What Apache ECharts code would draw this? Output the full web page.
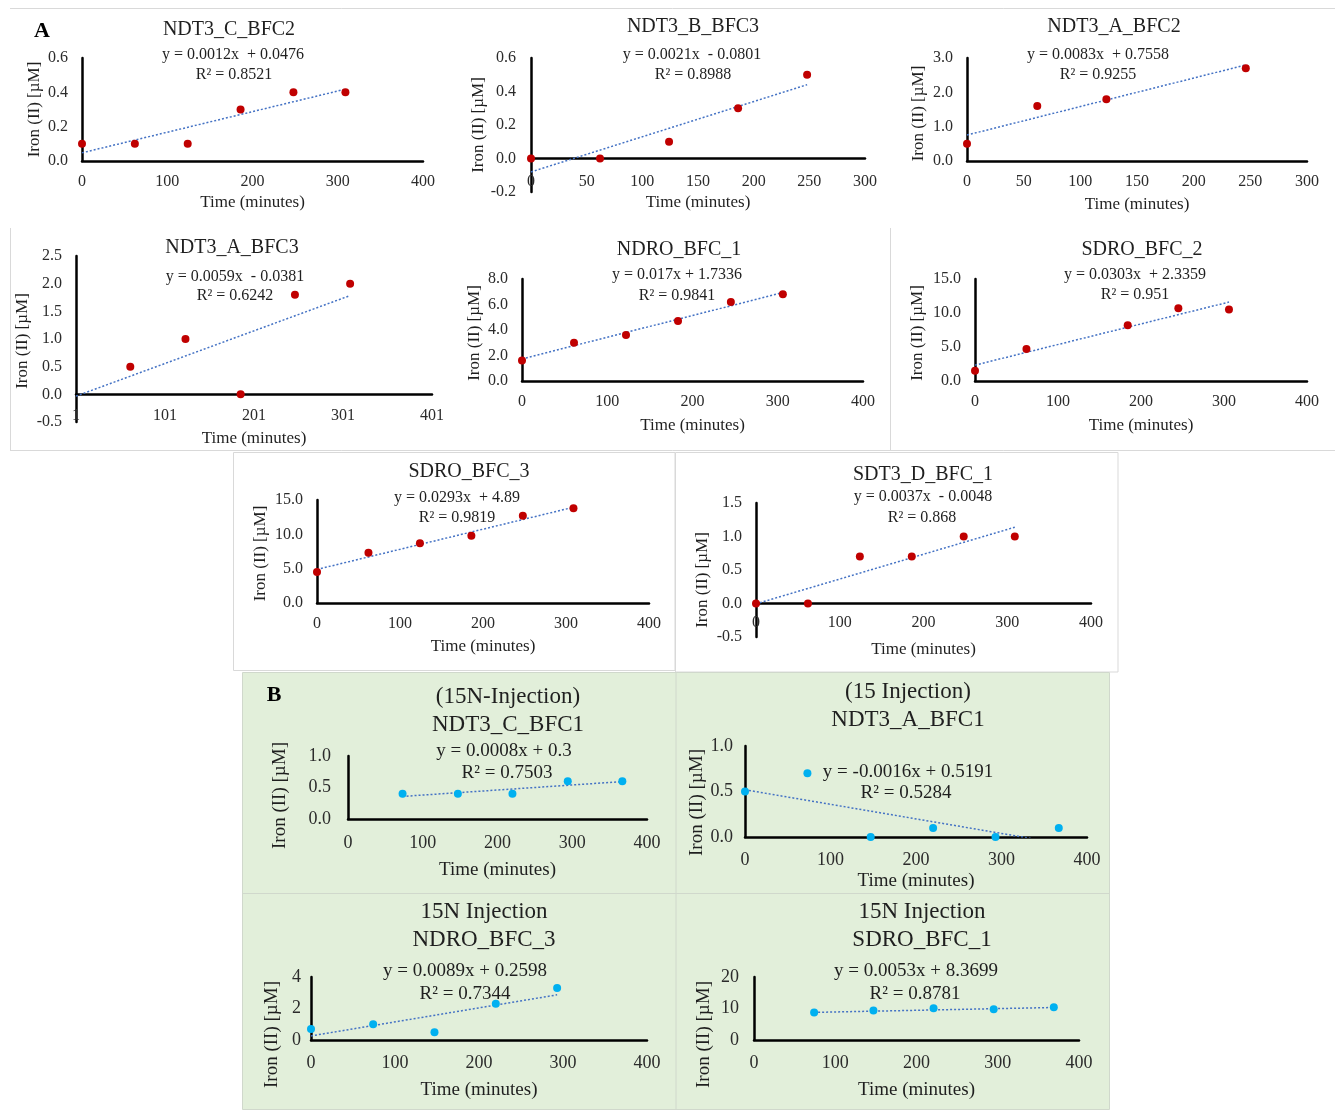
<!DOCTYPE html>
<html><head><meta charset="utf-8">
<script src="https://cdn.jsdelivr.net/npm/echarts@6/dist/echarts.min.js"></script>
<style>html,body{margin:0;padding:0;background:#fff}#c{width:1342px;height:1110px}</style>
</head><body><div id="c"></div>
<script>
// ---------------- DATA ----------------
const titleLines = [
  ['NDT3_C_BFC2'], ['NDT3_B_BFC3'], ['NDT3_A_BFC2'],
  ['NDT3_A_BFC3'], ['NDRO_BFC_1'], ['SDRO_BFC_2'],
  ['SDRO_BFC_3'], ['SDT3_D_BFC_1'],
  ['(15N-Injection)', 'NDT3_C_BFC1'], ['(15 Injection)', 'NDT3_A_BFC1'],
  ['15N Injection', 'NDRO_BFC_3'], ['15N Injection', 'SDRO_BFC_1']
];
const equations = [
  'y = 0.0012x  + 0.0476', 'y = 0.0021x  - 0.0801', 'y = 0.0083x  + 0.7558',
  'y = 0.0059x  - 0.0381', 'y = 0.017x + 1.7336', 'y = 0.0303x  + 2.3359',
  'y = 0.0293x  + 4.89', 'y = 0.0037x  - 0.0048',
  'y = 0.0008x + 0.3', 'y = -0.0016x + 0.5191', 'y = 0.0089x + 0.2598', 'y = 0.0053x + 8.3699'
];
const rSquared = [
  'R² = 0.8521', 'R² = 0.8988', 'R² = 0.9255', 'R² = 0.6242', 'R² = 0.9841', 'R² = 0.951',
  'R² = 0.9819', 'R² = 0.868', 'R² = 0.7503', 'R² = 0.5284', 'R² = 0.7344', 'R² = 0.8781'
];
const slopes = [0.0012, 0.0021, 0.0083, 0.0059, 0.017, 0.0303, 0.0293, 0.0037, 0.0008, -0.0016, 0.0089, 0.0053];
const intercepts = [0.0476, -0.0801, 0.7558, -0.0381, 1.7336, 2.3359, 4.89, -0.0048, 0.3, 0.5191, 0.2598, 8.3699];
const trendStart = [0, 0, 0, 1, 0, 0, 0, 0, 73, 0, 0, 74];
const trendEnd = [309, 248, 246, 309, 306, 306, 309, 309, 367, 367, 293, 369];

const timeNDT3_C_BFC2 = [0, 62, 124, 186, 248, 309];
const ironNDT3_C_BFC2 = [0.1, 0.1, 0.1, 0.3, 0.4, 0.4];
const timeNDT3_B_BFC3 = [0, 62, 124, 186, 248];
const ironNDT3_B_BFC3 = [0, 0, 0.1, 0.3, 0.5];
const timeNDT3_A_BFC2 = [0, 62, 123, 246];
const ironNDT3_A_BFC2 = [0.5, 1.6, 1.8, 2.7];
const timeNDT3_A_BFC3 = [62, 124, 186, 247, 309];
const ironNDT3_A_BFC3 = [0.5, 1.0, 0.0, 1.8, 2.0];
const timeNDRO_BFC_1 = [0, 61, 122, 183, 245, 306];
const ironNDRO_BFC_1 = [1.6, 3.0, 3.6, 4.7, 6.2, 6.8];
const timeSDRO_BFC_2 = [0, 62, 184, 245, 306];
const ironSDRO_BFC_2 = [1.5, 4.7, 8.2, 10.7, 10.5];
const timeSDRO_BFC_3 = [0, 62, 124, 186, 248, 309];
const ironSDRO_BFC_3 = [4.5, 7.3, 8.7, 9.8, 12.7, 13.8];
const timeSDT3_D_BFC_1 = [0, 62, 124, 186, 248, 309];
const ironSDT3_D_BFC_1 = [0, 0, 0.7, 0.7, 1.0, 1.0];
const timeNDT3_C_BFC1 = [73, 147, 220, 294, 367];
const ironNDT3_C_BFC1 = [0.4, 0.4, 0.4, 0.6, 0.6];
const timeNDT3_A_BFC1 = [0, 73, 147, 220, 293, 367];
const ironNDT3_A_BFC1 = [0.5, 0.7, 0, 0.1, 0, 0.1];
const timeNDRO_BFC_3 = [0, 74, 147, 220, 293];
const ironNDRO_BFC_3 = [0.7, 1.0, 0.5, 2.3, 3.3];
const timeSDRO_BFC_1 = [74, 147, 221, 295, 369];
const ironSDRO_BFC_1 = [8.7, 9.4, 10.1, 9.8, 10.4];

// axis tick settings
const xMin = [0, 0, 0, 1, 0, 0, 0, 0, 0, 0, 0, 0];
const xMax = [400, 300, 300, 401, 400, 400, 400, 400, 400, 400, 400, 400];
const xStep = [100, 50, 50, 100, 100, 100, 100, 100, 100, 100, 100, 100];
const yMin = [0, -0.2, 0, -0.5, 0, 0, 0, -0.5, 0, 0, 0, 0];
const yMax = [0.6, 0.6, 3, 2.5, 8, 15, 15, 1.5, 1, 1, 4, 20];
const yStep = [0.2, 0.2, 1, 0.5, 2, 5, 5, 0.5, 0.5, 0.5, 2, 10];
const yDecimals = [1, 1, 1, 1, 1, 1, 1, 1, 1, 1, 0, 0];
const xAxisName = 'Time (minutes)';
const yAxisName = 'Iron (II) [µM]';

const timeSeries = [timeNDT3_C_BFC2, timeNDT3_B_BFC3, timeNDT3_A_BFC2, timeNDT3_A_BFC3, timeNDRO_BFC_1, timeSDRO_BFC_2,
  timeSDRO_BFC_3, timeSDT3_D_BFC_1, timeNDT3_C_BFC1, timeNDT3_A_BFC1, timeNDRO_BFC_3, timeSDRO_BFC_1];
const ironSeries = [ironNDT3_C_BFC2, ironNDT3_B_BFC3, ironNDT3_A_BFC2, ironNDT3_A_BFC3, ironNDRO_BFC_1, ironSDRO_BFC_2,
  ironSDRO_BFC_3, ironSDT3_D_BFC_1, ironNDT3_C_BFC1, ironNDT3_A_BFC1, ironNDRO_BFC_3, ironSDRO_BFC_1];

// ---------------- LAYOUT ----------------
// g: [left, top, width, height]; nx/ny: name gaps; xm: x label margin; sh: y-name shift down; t/e/r: text centers; ym: y label margin
const layout = [
  {g:[82,58,341,103],  nx:33.5, xm:13,  ny:38.5, sh:0,  t:[229,30],  e:[233,55],  r:[234,75],  ym:14, big:false},
  {g:[531,58,334,134], nx:2.5,  xm:-18, ny:43.5, sh:0,  t:[693,27],  e:[692,55],  r:[693,75],  ym:15, big:false},
  {g:[967,58,340,103], nx:35.5, xm:13,  ny:39.5, sh:4,  t:[1114,27], e:[1098,55], r:[1098,75], ym:14, big:false},
  {g:[76,256,356,166], nx:8,    xm:-14, ny:44.5, sh:2,  t:[232,248], e:[235,277], r:[235,296], ym:14, big:false},
  {g:[522,279,341,102],nx:36,   xm:13,  ny:38.5, sh:3,  t:[679,250], e:[677,275], r:[677,296], ym:14, big:false},
  {g:[975,279,332,102],nx:36,   xm:13,  ny:48.5, sh:3,  t:[1142,250],e:[1135,275],r:[1135,295],ym:14, big:false},
  {g:[317,500,332,103],nx:35.5, xm:13,  ny:47.5, sh:2,  t:[469,472], e:[457,498], r:[457,518], ym:14, big:false},
  {g:[756,503,335,134],nx:4.5,  xm:-22, ny:44.5, sh:10, t:[923,475], e:[923,497], r:[922,518], ym:14, big:false},
  {g:[348,756,299,63], nx:41.5, xm:15,  ny:58.5, sh:8,  t:[508,697], e:[504,751], r:[507,773], ym:17, big:true},
  {g:[745,746,342,91], nx:34.5, xm:14,  ny:26.5, sh:11, t:[908,692], e:[908,772], r:[906,793], ym:12, big:true},
  {g:[311,977,336,63], nx:40.5, xm:14,  ny:29.5, sh:26, t:[484,912], e:[465,971], r:[465,994], ym:10, big:true},
  {g:[754,977,325,63], nx:40.5, xm:14,  ny:40.5, sh:26, t:[922,912], e:[916,971], r:[915,994], ym:15, big:true}
];

const FONT = '"Liberation Serif","Times New Roman",serif';
const TXT = '#1f1f1f';
const LBL = '#2b2b2b';

const grids = [], xAxes = [], yAxes = [], series = [], graphics = [];

// backgrounds and frames
const border = '#d9d9d9';
graphics.push({type:'line', z:-10, shape:{x1:10, y1:8.5, x2:1335, y2:8.5}, style:{stroke:border, lineWidth:1}});
graphics.push({type:'line', z:-10, shape:{x1:10.5, y1:228, x2:10.5, y2:450}, style:{stroke:border, lineWidth:1}});
graphics.push({type:'line', z:-10, shape:{x1:890.5, y1:228, x2:890.5, y2:450}, style:{stroke:border, lineWidth:1}});
graphics.push({type:'line', z:-10, shape:{x1:10, y1:450.5, x2:1335, y2:450.5}, style:{stroke:border, lineWidth:1}});
graphics.push({type:'rect', z:-10, shape:{x:233.5, y:452.5, width:441.5, height:218}, style:{fill:'#fff', stroke:border, lineWidth:1}});
graphics.push({type:'rect', z:-10, shape:{x:675.5, y:452.5, width:442.5, height:219.5}, style:{fill:'#fff', stroke:border, lineWidth:1}});
graphics.push({type:'rect', z:-10, shape:{x:242.5, y:672.5, width:867, height:437}, style:{fill:'#E2EFDA', stroke:'#d0d8cc', lineWidth:1}});
graphics.push({type:'line', z:-9, shape:{x1:676, y1:672.5, x2:676, y2:1110}, style:{stroke:'#d0d8cc', lineWidth:1}});
graphics.push({type:'line', z:-9, shape:{x1:242.5, y1:893.5, x2:1109.5, y2:893.5}, style:{stroke:'#d0d8cc', lineWidth:1}});

// panel letters
graphics.push({type:'text', z:10, x:42, y:31, style:{text:'A', font:'bold 22px ' + FONT, fill:'#000', align:'center', verticalAlign:'middle'}});
graphics.push({type:'text', z:10, x:274, y:695, style:{text:'B', font:'bold 22px ' + FONT, fill:'#000', align:'center', verticalAlign:'middle'}});

layout.forEach((l, i) => {
  const big = l.big;
  const tickFs = big ? 18 : 16;
  const nameFs = big ? 19 : 17;
  const eqFs = big ? 19 : 16;
  const titleFs = big ? 23 : 20;
  const dec = yDecimals[i];
  grids.push({left:l.g[0], top:l.g[1], width:l.g[2], height:l.g[3], containLabel:false});
  xAxes.push({
    type:'value', gridIndex:i, min:xMin[i], max:xMax[i], interval:xStep[i],
    name:xAxisName, nameLocation:'middle', nameGap:l.nx,
    nameTextStyle:{fontFamily:FONT, fontSize:nameFs, color:TXT},
    axisLine:{onZero:true, lineStyle:{color:'#000', width:2.5}},
    axisTick:{show:false}, splitLine:{show:false},
    axisLabel:{margin:l.xm, fontFamily:FONT, fontSize:tickFs, color:LBL,
      formatter:v => String(Math.round(v))}
  });
  yAxes.push({
    type:'value', gridIndex:i, min:yMin[i], max:yMax[i], interval:yStep[i],
    name:yAxisName, nameLocation:'middle', nameGap:l.ny,
    nameTextStyle:{fontFamily:FONT, fontSize:nameFs, color:TXT, padding:[0, 2 * l.sh, 0, 0]},
    axisLine:{onZero:true, lineStyle:{color:'#000', width:2.5}},
    axisTick:{show:false}, splitLine:{show:false},
    axisLabel:{margin:l.ym, fontFamily:FONT, fontSize:tickFs, color:LBL,
      formatter:v => { let s = Number(v).toFixed(dec); if (/^-0(\.0+)?$/.test(s)) s = s.slice(1); return s; }}
  });
  const pts = timeSeries[i].map((t, k) => [t, ironSeries[i][k]]);
  const tr = [trendStart[i], trendEnd[i]].map(x => [x, slopes[i] * x + intercepts[i]]);
  series.push({
    type:'line', xAxisIndex:i, yAxisIndex:i, data:tr, showSymbol:false, symbol:'none', silent:true,
    lineStyle:{color:'#4472C4', width:1.5, type:[2, 2]}, z:3, clip:true
  });
  series.push({
    type:'scatter', xAxisIndex:i, yAxisIndex:i, data:pts, symbol:'circle', symbolSize:8,
    itemStyle:{color: big ? '#00B0F0' : '#C00000', opacity:1}, z:4
  });
  titleLines[i].forEach((line, k) => {
    graphics.push({type:'text', z:10, x:l.t[0], y:l.t[1] + k * 28,
      style:{text:line, font:titleFs + 'px ' + FONT, fill:TXT, align:'center', verticalAlign:'middle'}});
  });
  graphics.push({type:'text', z:10, x:l.e[0], y:l.e[1],
    style:{text:equations[i], font:eqFs + 'px ' + FONT, fill:TXT, align:'center', verticalAlign:'middle'}});
  graphics.push({type:'text', z:10, x:l.r[0], y:l.r[1],
    style:{text:rSquared[i], font:eqFs + 'px ' + FONT, fill:TXT, align:'center', verticalAlign:'middle'}});
});

const chart = echarts.init(document.getElementById('c'), null, {renderer:'canvas'});
chart.setOption({
  animation:false,
  backgroundColor:'#ffffff',
  grid:grids, xAxis:xAxes, yAxis:yAxes, series:series,
  graphic:{elements:graphics}
});
</script>
</body></html>
